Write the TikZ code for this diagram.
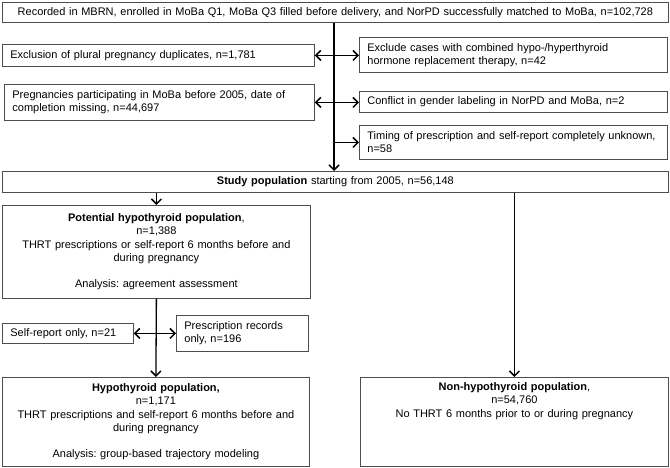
\documentclass[tikz,border=0pt]{standalone}
\usepackage{fontspec}
\setmainfont{Liberation Sans}
\usetikzlibrary{arrows.meta,calc}
\definecolor{boxgray}{HTML}{4D4D4D}
\begin{document}
\frenchspacing
\begin{tikzpicture}[x=1pt,y=-1pt,
  basebox/.style={draw=boxgray, line width=0.8pt, inner xsep=8pt, inner ysep=0pt,
    font=\fontsize{11}{13.3}\selectfont\frenchspacing, anchor=north west},
  lbox/.style={basebox, align=left},
  cbox/.style={basebox, align=center},
  tip/.tip={Straight Barb[length=5pt,width=10pt,line width=1.5pt]},
  arr/.style={line width=1.3pt, -tip},
  dbl/.style={line width=1.3pt, tip-tip}]
\useasboundingbox (0,0) rectangle (670,468);
\coordinate (m) at (334,0);

\node[cbox, text width=650, minimum width=666, minimum height=20] (top) at (2,2)
  {Recorded in MBRN, enrolled in MoBa Q1, MoBa Q3 filled before delivery, and NorPD successfully matched to MoBa, n=102,728};

\node[lbox, text width=296, minimum width=312, minimum height=22] (excl) at (2,44)
  {Exclusion of plural pregnancy duplicates, n=1,781};
\node[lbox, text width=294, minimum width=310, minimum height=36] (preg) at (4,84)
  {Pregnancies participating in MoBa before 2005, date of\\completion missing, n=44,697};

\node[lbox, text width=292, minimum width=308, minimum height=35] (excc) at (359,37)
  {Exclude cases with combined hypo-/hyperthyroid\\hormone replacement therapy, n=42};
\node[lbox, text width=292, minimum width=308, minimum height=21] (conf) at (359,91)
  {Conflict in gender labeling in NorPD and MoBa, n=2};
\node[lbox, text width=292, minimum width=308, minimum height=34] (tim) at (359,125)
  {Timing of prescription and self-report completely unknown,\\n=58};

\node[cbox, text width=650, minimum width=666, minimum height=21] (study) at (2,171)
  {\textbf{Study population} starting from 2005, n=56,148};

\node[cbox, text width=292, minimum width=308, minimum height=93] (pot) at (2,205)
  {\textbf{Potential hypothyroid population},\\n=1,388\\THRT prescriptions or self-report 6 months before and\\during pregnancy\\[13.3pt]Analysis: agreement assessment};

\node[lbox, text width=115, minimum width=131, minimum height=20] (self) at (2,323)
  {Self-report only, n=21};
\node[lbox, text width=116, minimum width=132, minimum height=36] (presc) at (176,315)
  {Prescription records\\only, n=196};

\node[cbox, text width=291, minimum width=307, minimum height=89] (hypo) at (2,377)
  {\textbf{Hypothyroid population,}\\n=1,171\\THRT prescriptions and self-report 6 months before and\\during pregnancy\\[13.3pt]Analysis: group-based trajectory modeling};
\node[cbox, text width=292, minimum width=308, minimum height=89] (non) at (360,377)
  {\textbf{Non-hypothyroid population},\\n=54,760\\No THRT 6 months prior to or during pregnancy\\\strut\\\strut\\\strut};

\draw[arr] (top.south -| m) -- (study.north -| m);
\draw[dbl] (excl.east) -- (excl.east -| excc.west);
\draw[dbl] (preg.east) -- (preg.east -| conf.west);
\draw[arr] (tim.west -| m) -- (tim.west);
\draw[arr] (pot.north |- study.south) -- (pot.north);
\draw[arr] (pot.south) -- (hypo.north);
\draw[dbl] (self.east) -- (self.east -| presc.west);
\draw[arr] (non.north |- study.south) -- (non.north);
\end{tikzpicture}
\end{document}
